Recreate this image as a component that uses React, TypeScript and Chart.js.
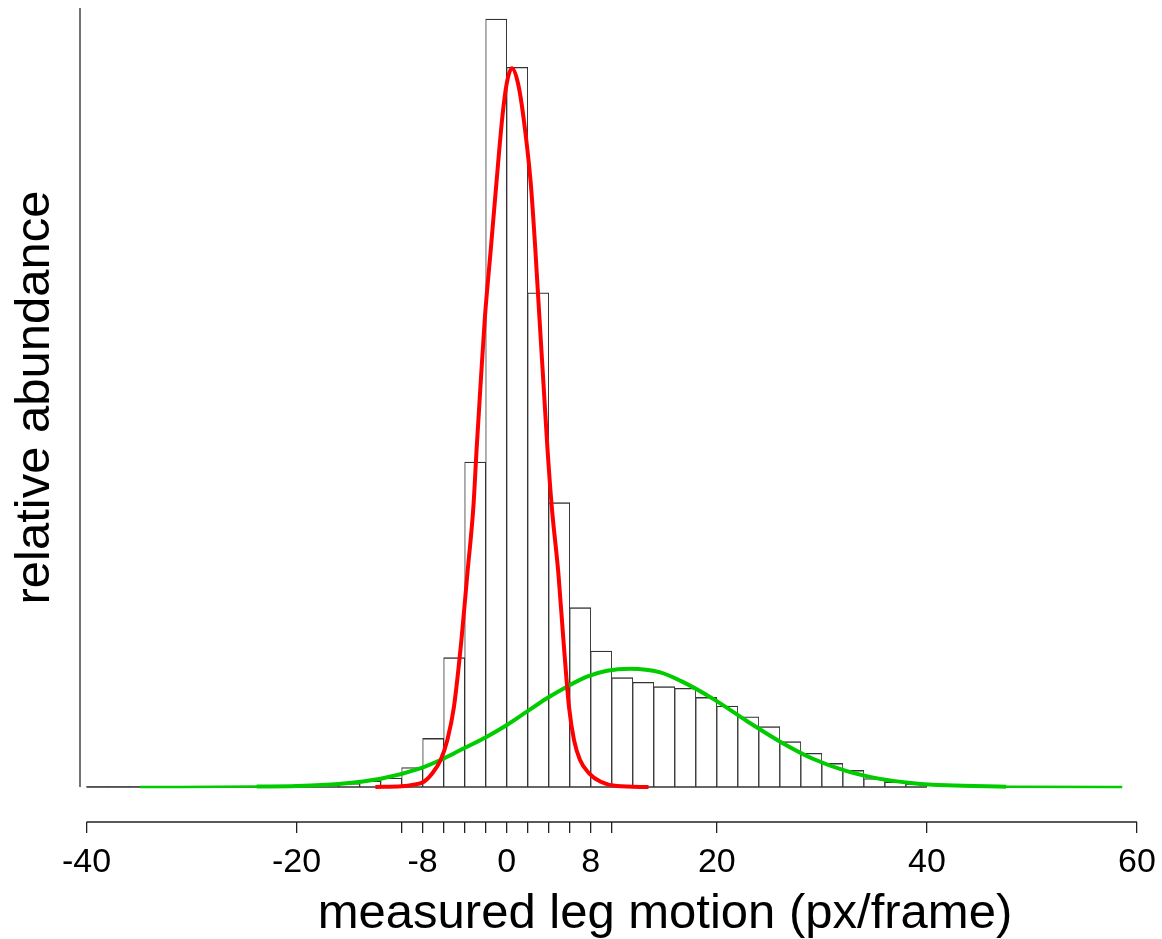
import React, { useEffect, useRef } from "react";
import { Chart, registerables } from "chart.js";

Chart.register(...registerables);

// Histogram: bin centres (bin width 2 px/frame) and relative abundance (axis top = 100)
const binCenters = [
  -39, -37, -35, -33, -31, -29, -27, -25, -23, -21, -19, -17, -15, -13, -11, -9, -7, -5, -3, -1,
  1, 3, 5, 7, 9, 11, 13, 15, 17, 19, 21, 23, 25, 27, 29, 31, 33, 35, 37, 39,
];
const binHeights = [
  0.04, 0.04, 0.04, 0.05, 0.05, 0.06, 0.06, 0.08, 0.1, 0.13, 0.17, 0.26, 0.47, 0.77, 1.16, 2.5, 6.25, 16.6, 41.72, 98.59,
  92.39, 63.45, 36.5, 23.02, 17.46, 14.03, 13.44, 12.88, 12.67, 11.51, 10.4, 9.02, 7.74, 5.82, 4.33, 3.04, 2.14, 1.09, 0.64, 0.41,
];

// Red fitted curve (narrow component)
const redX = [
  -12.5, -10, -9, -7.88, -7.08, -6.29, -5.65, -5.02, -4.31, -3.74, -3.17, -2.86, -2.48, -2.07, -1.52, -0.98, -0.41, 0.0, 0.5,
  1.08, 1.59, 2.29, 2.73, 3.11, 3.5, 3.88, 4.29, 4.92, 5.4, 5.93, 6.41, 6.98, 7.84, 8.95, 10.5, 13.5,
];
const redY = [
  0.0, 0.1, 0.26, 0.68, 1.76, 3.47, 6.03, 10.31, 18.87, 27.43, 35.98, 43.48, 51.82, 60.37, 68.93, 77.5, 86.05, 90.3, 92.26,
  90.3, 86.05, 77.5, 68.93, 60.37, 51.82, 43.48, 35.98, 27.43, 18.87, 10.31, 6.03, 3.47, 1.76, 0.68, 0.13, 0.0,
];

// Green fitted curve (broad component)
const greenX = [
  -34.9, -23.8, -20, -16, -12, -8.23, -6.3, -4.4, -1.89, 0.02, 1.92, 3.83, 5.73, 7.64, 9.54, 11.76, 14.62, 16.52, 19.69,
  22.86, 26.03, 29.2, 32.38, 35.55, 38.72, 41.9, 47.55, 58.6,
];
const greenY = [
  0.0, 0.05, 0.13, 0.4, 1.06, 2.4, 3.47, 4.75, 6.46, 7.96, 9.67, 11.39, 12.88, 14.16, 14.93, 15.19, 14.72, 13.65, 11.28,
  8.47, 5.82, 3.59, 2.03, 1.04, 0.49, 0.21, 0.04, 0.0,
];

const xTickValues = [-40, -20, -10, -8, -6, -4, -2, 0, 2, 4, 6, 8, 10, 20, 40, 60];
const xTickLabels = [-40, -20, -8, 0, 8, 20, 40, 60];
const xAxisRange = [-40, 60];
const yAxisRange = [0, 100];
const histRange = [-40, 40];
const xTitle = "measured leg motion (px/frame)";
const yTitle = "relative abundance";

const FONT = "'Liberation Sans', Arial, Helvetica, sans-serif";

// canvas is larger than the page and shifted up, so the axis titles sit where the reference has them
const CANVAS_W = 1250;
const CANVAS_H = 966;
const CANVAS_SHIFT_Y = -27;

const axisLinesPlugin = {
  id: "axisLines",
  afterDatasetsDraw(chart: any) {
    const { ctx, chartArea, scales } = chart;
    const xs = scales.x;
    const ys = scales.y;
    ctx.save();
    ctx.strokeStyle = "#222";
    ctx.lineWidth = 1.3;
    ctx.beginPath();
    ctx.moveTo(xs.getPixelForValue(xAxisRange[0]), chartArea.bottom);
    ctx.lineTo(xs.getPixelForValue(xAxisRange[1]), chartArea.bottom);
    ctx.stroke();
    ctx.strokeStyle = "#444";
    ctx.lineWidth = 1.5;
    ctx.beginPath();
    ctx.moveTo(chartArea.left, ys.getPixelForValue(yAxisRange[1]));
    ctx.lineTo(chartArea.left, ys.getPixelForValue(yAxisRange[0]));
    ctx.stroke();
    ctx.restore();
  },
};

export default function App() {
  const canvasRef = useRef<HTMLCanvasElement | null>(null);

  useEffect(() => {
    document.body.style.margin = "0";
    const canvas = canvasRef.current;
    if (!canvas) return;
    const chart = new Chart(canvas, {
      type: "bar",
      data: {
        datasets: [
          {
            type: "line",
            label: "narrow fit",
            data: redX.map((x, i) => ({ x, y: redY[i] })),
            borderColor: "#FF0000",
            borderWidth: 4,
            pointRadius: 0,
            cubicInterpolationMode: "monotone",
            fill: false,
            order: 0,
          } as any,
          {
            type: "line",
            label: "broad fit",
            data: greenX.slice(1, -1).map((x, i) => ({ x, y: greenY.slice(1, -1)[i] })),
            borderColor: "#00CC00",
            borderWidth: 4,
            pointRadius: 0,
            cubicInterpolationMode: "monotone",
            fill: false,
            order: 1,
          } as any,
          {
            type: "line",
            label: "broad fit tails",
            data: greenX.map((x, i) => ({ x, y: greenY[i] })),
            borderColor: "#00CC00",
            borderWidth: 2.5,
            pointRadius: 0,
            cubicInterpolationMode: "monotone",
            fill: false,
            order: 2,
          } as any,
          {
            type: "line",
            label: "bin baseline",
            data: histRange.map((x) => ({ x, y: 0 })),
            borderColor: "#333",
            borderWidth: 1.3,
            pointRadius: 0,
            fill: false,
            order: 3,
          } as any,
          {
            type: "bar",
            label: "histogram",
            data: binCenters.map((x, i) => ({ x, y: binHeights[i] })),
            backgroundColor: "#FFFFFF",
            borderColor: "#333",
            borderSkipped: false,
            borderWidth: { left: 1, top: 1.4, right: 1, bottom: 0 },
            barPercentage: 1,
            categoryPercentage: 1,
            order: 4,
          } as any,
        ],
      },
      options: {
        animation: false,
        responsive: false,
        devicePixelRatio: 1,
        events: [],
        layout: { padding: 0 },
        plugins: {
          legend: { display: false },
          tooltip: { enabled: false },
          title: { display: false },
        },
        scales: {
          x: {
            type: "linear",
            min: -40.62,
            max: 70.76,
            offset: false,
            afterBuildTicks: (scale: any) => {
              scale.ticks = xTickValues.map((v) => ({ value: v }));
            },
            afterFit: (scale: any) => {
              scale.height = 117;
            },
            grid: {
              display: true,
              offset: false,
              drawOnChartArea: false,
              drawTicks: true,
              tickLength: 11,
              color: "#222",
              lineWidth: 1.3,
            },
            border: { display: false },
            ticks: {
              autoSkip: false,
              maxRotation: 0,
              minRotation: 0,
              padding: 9,
              color: "#000",
              font: { family: FONT, size: 34 },
              callback: (value: any) => (xTickLabels.includes(Number(value)) ? String(value) : ""),
            },
            title: {
              display: true,
              text: xTitle,
              color: "#000",
              font: { family: FONT, size: 49, lineHeight: 1.0 },
              padding: { top: 0, bottom: 0 },
            },
          },
          y: {
            type: "linear",
            min: -4.493,
            max: 104.49,
            afterFit: (scale: any) => {
              scale.width = 80;
            },
            grid: { display: false },
            border: { display: false },
            ticks: { display: false },
            title: {
              display: true,
              text: yTitle,
              color: "#000",
              font: { family: FONT, size: 49, lineHeight: 1.0 },
              padding: { top: 11, bottom: 0 },
            },
          },
        },
      } as any,
      plugins: [axisLinesPlugin],
    });
    return () => chart.destroy();
  }, []);

  return (
    <div style={{ position: "relative", width: 1162, height: 939, overflow: "hidden", background: "#fff" }}>
      <canvas
        ref={canvasRef}
        width={CANVAS_W}
        height={CANVAS_H}
        style={{ position: "absolute", left: 0, top: CANVAS_SHIFT_Y, display: "block", width: CANVAS_W, height: CANVAS_H }}
      />
    </div>
  );
}
